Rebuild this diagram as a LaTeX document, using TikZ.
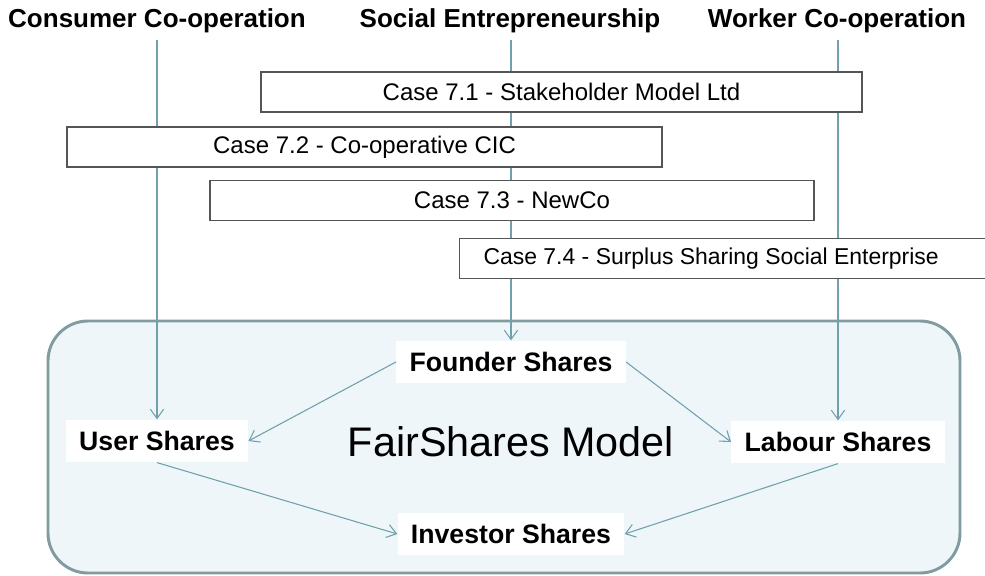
\documentclass[tikz,border=0pt]{standalone}
\usepackage{fontspec}
\setmainfont{Liberation Sans}
\usepackage{tikz}
\usetikzlibrary{arrows.meta}

\definecolor{linkblue}{RGB}{112,160,172}
\definecolor{framegray}{RGB}{128,156,158}
\definecolor{panelblue}{RGB}{239,246,249}
\definecolor{boxgray}{RGB}{85,85,85}

\begin{document}
\begin{tikzpicture}[x=0.75pt,y=0.75pt,yscale=-1,xscale=1,
    title/.style={font=\bfseries\fontsize{19.5}{23}\selectfont, inner sep=0pt},
    share/.style={font=\bfseries\fontsize{20}{24}\selectfont, fill=white, inner xsep=10pt, minimum height=32pt},
    casebox/.style={draw=boxgray, line width=0.9pt, fill=white, font=\fontsize{18}{21}\selectfont, minimum height=30pt},
    feed/.style={draw=linkblue, line width=0.8pt, -{Straight Barb[length=7pt,width=10pt]}}
]
                \clip (0,0) rectangle (985,575);
                %Rounded Rect
                \draw [draw=framegray, fill=panelblue, line width=2.2pt, rounded corners=30pt] (48,321) rectangle (960,573);

                % Text Node
                \node [title, anchor=base] (cons) at (157,27) {Consumer Co-operation};
                % Text Node
                \node [title, anchor=base] (soc) at (510,27) {Social Entrepreneurship};
                % Text Node
                \node [title, anchor=base] (work) at (837,27) {Worker Co-operation};

                % Text Node
                \node [share] (founder) at (511,362) {Founder Shares};
                % Text Node
                \node [share] (user) at (157,441) {User Shares};
                % Text Node
                \node [share] (labour) at (838,442) {Labour Shares};
                % Text Node
                \node [share] (investor) at (511,534) {Investor Shares};
                % Text Node
                \node [font=\fontsize{31}{36}\selectfont] (model) at (511,442) {FairShares Model};

                %Straight Lines
                \draw [feed, shorten <=5.5pt] (user.north |- cons.south) -- (user.north);
                \draw [feed, shorten <=5.5pt] (founder.north |- soc.south) -- (founder.north);
                \draw [feed, shorten <=5.5pt] (labour.north |- work.south) -- (labour.north);
                \draw [feed] (founder.west) -- (user.east);
                \draw [feed] (founder.east) -- (labour.west);
                \draw [feed] (user.south) -- (investor.west);
                \draw [feed] (labour.south) -- (investor.east);

                % Case boxes
                \node [casebox, minimum width=450.75pt] (case71) at (561.5,92) {Case 7.1 - Stakeholder Model Ltd};
                \node [casebox, minimum width=446.25pt] (case72) at (364.5,147) {Case 7.2 - Co-operative CIC};
                \node [casebox, minimum width=453pt] (case73) at (512,200.5) {Case 7.3 - NewCo};
                \node [casebox, anchor=west, inner xsep=18pt, font=\fontsize{17.2}{21}\selectfont] (case74) at (459,258.5) {\makebox[369.75pt][l]{Case 7.4 - Surplus Sharing Social Enterprise}};
\end{tikzpicture}
\end{document}
